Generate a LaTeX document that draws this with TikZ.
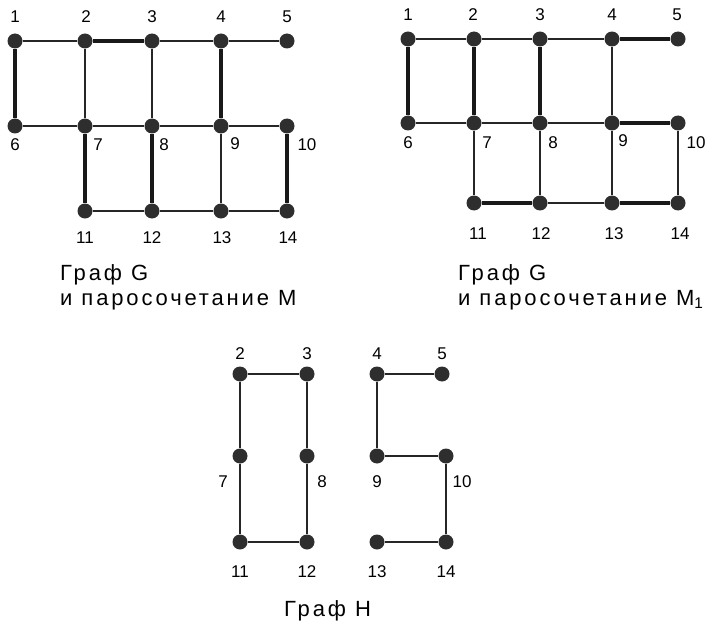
\documentclass[tikz,border=0pt]{standalone}
\usepackage{fontspec}
\setmainfont{Liberation Sans}
\newfontfamily\capfont[LetterSpace=13]{Liberation Sans}
\newcommand{\wsp}{\hspace{9pt}}
\begin{document}
\begin{tikzpicture}[x=1pt,y=-1pt,
  vtx/.style={circle,fill=black!82,inner sep=0pt,minimum size=15pt},
  num/.style={font=\fontsize{17}{17}\selectfont,inner sep=0pt},
  captxt/.style={font=\capfont\fontsize{22}{22}\selectfont,inner sep=0pt,anchor=base west},
  thinedge/.style={line width=1.1pt,black!85},
  thkedge/.style={line width=3.3pt,black!90}]
\useasboundingbox (0,0) rectangle (705,626);
% ---------- Graph G, matching M ----------
\foreach \n/\x/\y in {1/15/41,2/85/41,3/152/41,4/221/41,5/287/41,6/15/126,7/85/126,8/152/126,9/221/126,10/287/126,11/85/211,12/152/211,13/221/211,14/287/211}
  \node[vtx] (a\n) at (\x,\y) {};
\foreach \n/\x/\y in {1/15/17,2/86/17,3/152/17,4/221/17,5/287/17,6/15/145,7/98/145,8/164/145,9/235/144,10/307/145,11/85/238,12/152/238,13/222/238,14/288/238}
  \node[num] (la\n) at (\x,\y) {\n};
\foreach \u/\v in {1/2,3/4,4/5,6/7,7/8,8/9,9/10,11/12,12/13,13/14,2/7,3/8,9/13}
  \draw[thinedge] (a\u) -- (a\v);
\foreach \u/\v in {1/6,2/3,4/9,7/11,8/12,10/14}
  \draw[thkedge] (a\u) -- (a\v);
\node[captxt] (capGa) at (60,280) {Граф\wsp G};
\node[captxt] (capGb) at (60,305) {и\wsp паросочетание\wsp M};
% ---------- Graph G, matching M1 ----------
\foreach \n/\x/\y in {1/408/39,2/474/39,3/540/39,4/612/39,5/678/39,6/408/123,7/474/123,8/540/123,9/612/123,10/678/123,11/474/203,12/540/203,13/612/203,14/678/203}
  \node[vtx] (b\n) at (\x,\y) {};
\foreach \n/\x/\y in {1/408/15,2/473/15,3/540/15,4/612/15,5/677/15,6/408/143,7/487/143,8/553/143,9/623/141,10/696/143,11/478/234,12/541/234,13/614/234,14/680/234}
  \node[num] (lb\n) at (\x,\y) {\n};
\foreach \u/\v in {1/2,2/3,3/4,6/7,7/8,8/9,12/13,7/11,8/12,9/13,4/9,10/14}
  \draw[thinedge] (b\u) -- (b\v);
\foreach \u/\v in {1/6,2/7,3/8,4/5,9/10,11/12,13/14}
  \draw[thkedge] (b\u) -- (b\v);
\node[captxt] (capMa) at (458,280) {Граф\wsp G};
\node[captxt] (capMb) at (458,305) {и\wsp паросочетание\wsp M\textsubscript{1}};
% ---------- Graph H ----------
\foreach \n/\x/\y in {2/240/374,3/307/374,4/377/374,5/442/374,7/240/456,8/307/456,9/377/456,10/446/456,11/240/542,12/307/542,13/377/542,14/446/542}
  \node[vtx] (h\n) at (\x,\y) {};
\foreach \n/\x/\y in {2/240/354,3/307/354,4/377/354,5/442/354,7/223/482,8/322/482,9/377/482,10/462/482,11/240/572,12/307/572,13/377/572,14/446/572}
  \node[num] (lh\n) at (\x,\y) {\n};
\foreach \u/\v in {2/3,2/7,7/11,11/12,12/8,8/3,4/5,4/9,9/10,10/14,14/13}
  \draw[thinedge] (h\u) -- (h\v);
\node[captxt] (capH) at (284,616) {Граф\wsp H};
\end{tikzpicture}
\end{document}
